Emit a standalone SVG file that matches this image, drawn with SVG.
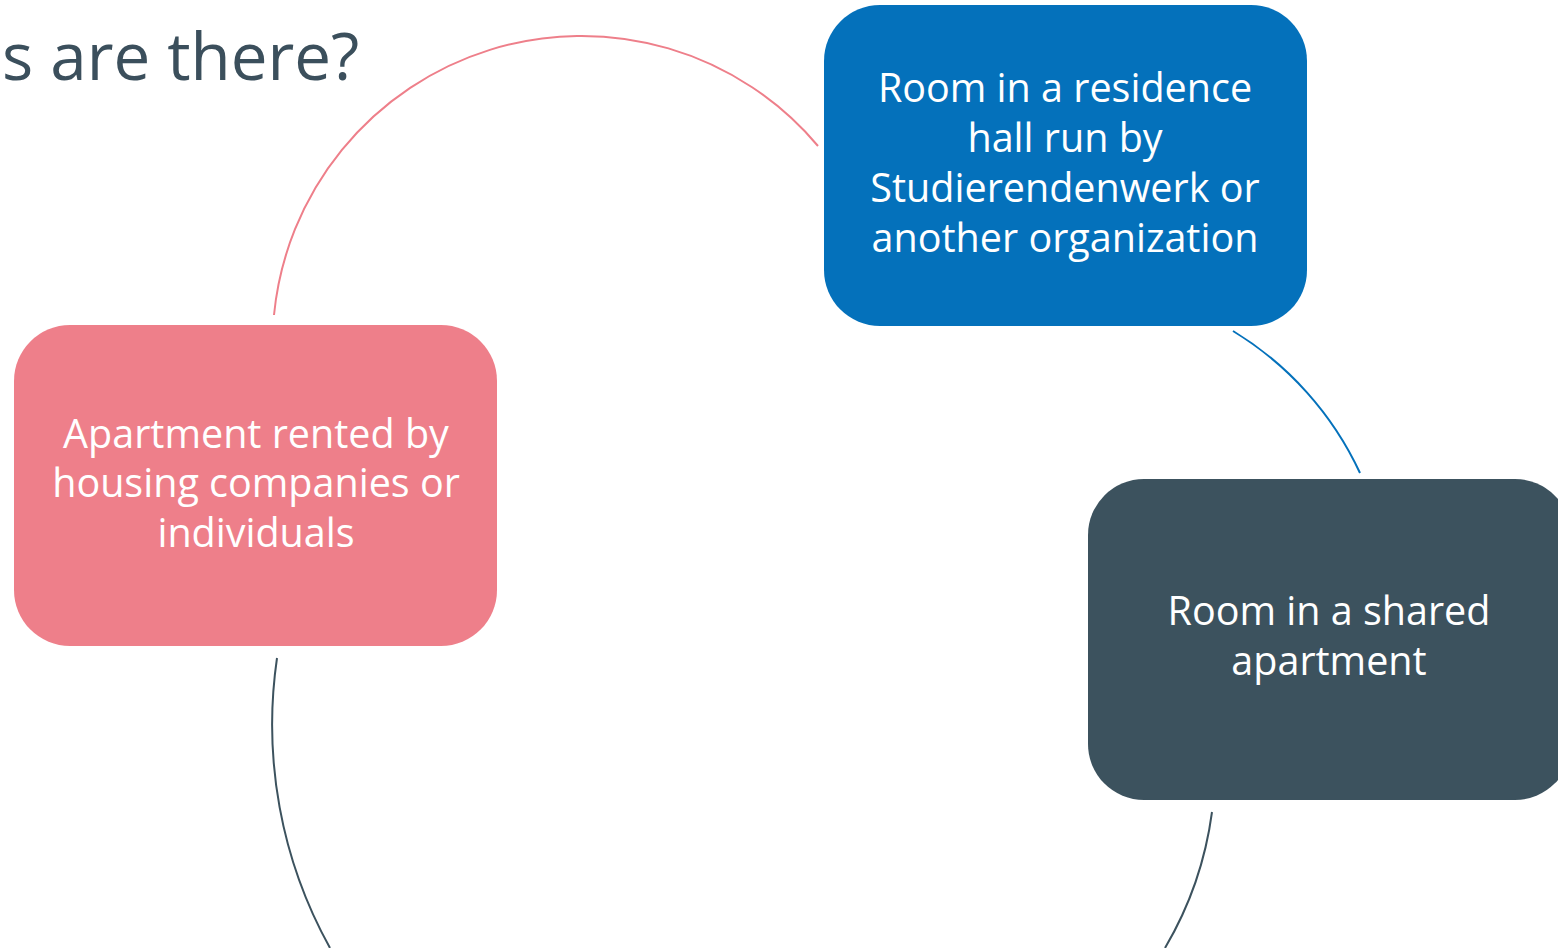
<svg xmlns="http://www.w3.org/2000/svg" width="1558" height="948" viewBox="0 0 1558 948">
<style>
.box-text{font-family:"Open Sans","Noto Sans","Liberation Sans",sans-serif;font-size:39.5px;fill:#ffffff;text-anchor:middle}
.title{font-family:"Open Sans","Noto Sans","Liberation Sans",sans-serif;font-size:65.5px;fill:#3B4F5C}
.arc{fill:none;stroke-width:2}
</style>
<rect width="1558" height="948" fill="#ffffff"/>
<text class="title" x="2" y="80">s are there?</text>
<g id="connectors">
<path class="arc" stroke="#EE7F8A" d="M274,315 A309,309 0 0 1 818,146"/>
<path class="arc" stroke="#0471BB" d="M1233,331 A327,327 0 0 1 1360,473"/>
<path class="arc" stroke="#3C525E" d="M1212,812 A361,361 0 0 1 1165,948"/>
<path class="arc" stroke="#3C525E" d="M277,658 A460,460 0 0 0 330,948"/>
</g>
<g id="node-residence">
<rect x="824" y="5" width="483" height="321" rx="56" ry="56" fill="#0471BB"/>
<text class="box-text" x="1065" y="102">Room in a residence</text>
<text class="box-text" x="1065" y="152">hall run by</text>
<text class="box-text" x="1065" y="202">Studierendenwerk or</text>
<text class="box-text" x="1065" y="252">another organization</text>
</g>
<g id="node-shared">
<rect x="1088" y="479" width="483" height="321" rx="56" ry="56" fill="#3C525E"/>
<text class="box-text" x="1329" y="625">Room in a shared</text>
<text class="box-text" x="1329" y="675">apartment</text>
</g>
<g id="node-apartment">
<rect x="14" y="325" width="483" height="321" rx="56" ry="56" fill="#EE7F8A"/>
<text class="box-text" x="256" y="448">Apartment rented by</text>
<text class="box-text" x="256" y="497">housing companies or</text>
<text class="box-text" x="256" y="547">individuals</text>
</g>
</svg>
